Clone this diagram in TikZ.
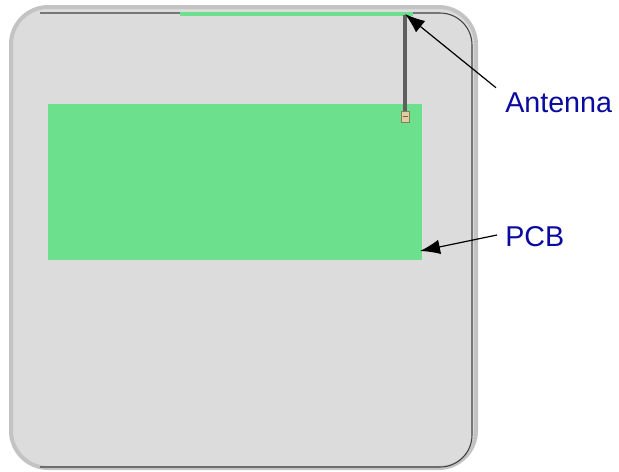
\documentclass[tikz,border=0pt]{standalone}
\usepackage{fontspec}
\setmainfont{Liberation Sans}
\usetikzlibrary{arrows.meta}
\definecolor{encl}{RGB}{220,220,220}
\definecolor{enclrim}{RGB}{195,195,195}
\definecolor{pcbgreen}{RGB}{108,224,140}
\definecolor{labelblue}{RGB}{10,10,160}
\definecolor{cable}{RGB}{95,95,95}
\definecolor{conn}{RGB}{225,205,160}
\tikzset{
  callout/.style={draw=black, line width=0.9pt, -{Latex[length=15pt,width=11pt]}},
  lbl/.style={text=labelblue, font=\fontsize{21.5}{24}\selectfont, inner sep=0pt, anchor=west},
}
\begin{document}
\begin{tikzpicture}[x=0.75pt,y=-0.75pt]
\useasboundingbox (0,0) rectangle (619,472);
\fill[white] (0,0) rectangle (619,472);
% enclosure
\draw[fill=encl, draw=enclrim, line width=3pt, rounded corners=28] (11,7) rectangle (476,468);
\draw[black!75, line width=0.8pt, rounded corners=24] (40,13) -- (472,13) -- (472,467) -- (40,467);
% top green strip (antenna element)
\fill[pcbgreen] (180,12) rectangle (413,15.5);
% PCB
\node[fill=pcbgreen, inner sep=0pt, minimum width=374*0.75pt, minimum height=156*0.75pt, anchor=north west] (pcb) at (48,104) {};
\node[coordinate] (pcbtip) at (420,251) {};
% antenna cable
\node[coordinate] (anttop) at (405,14) {};
\fill[cable] (403,15) rectangle (407,111);
\draw[conn!60!black, fill=conn, line width=0.4pt] (401,111) rectangle (409,122);
\draw[conn!50!black, line width=0.4pt] (402.5,116.5) -- (407.5,116.5);
% labels
\node[lbl] (antlbl) at (505,103) {Antenna};
\node[lbl] (pcblbl) at (505,237) {PCB};
\draw[callout] (antlbl.north west) ++(-9,-5) coordinate (a1) -- (anttop);
\draw[callout] (pcblbl.west) ++(-8,-2) coordinate (p1) -- (pcbtip);
\end{tikzpicture}
\end{document}
